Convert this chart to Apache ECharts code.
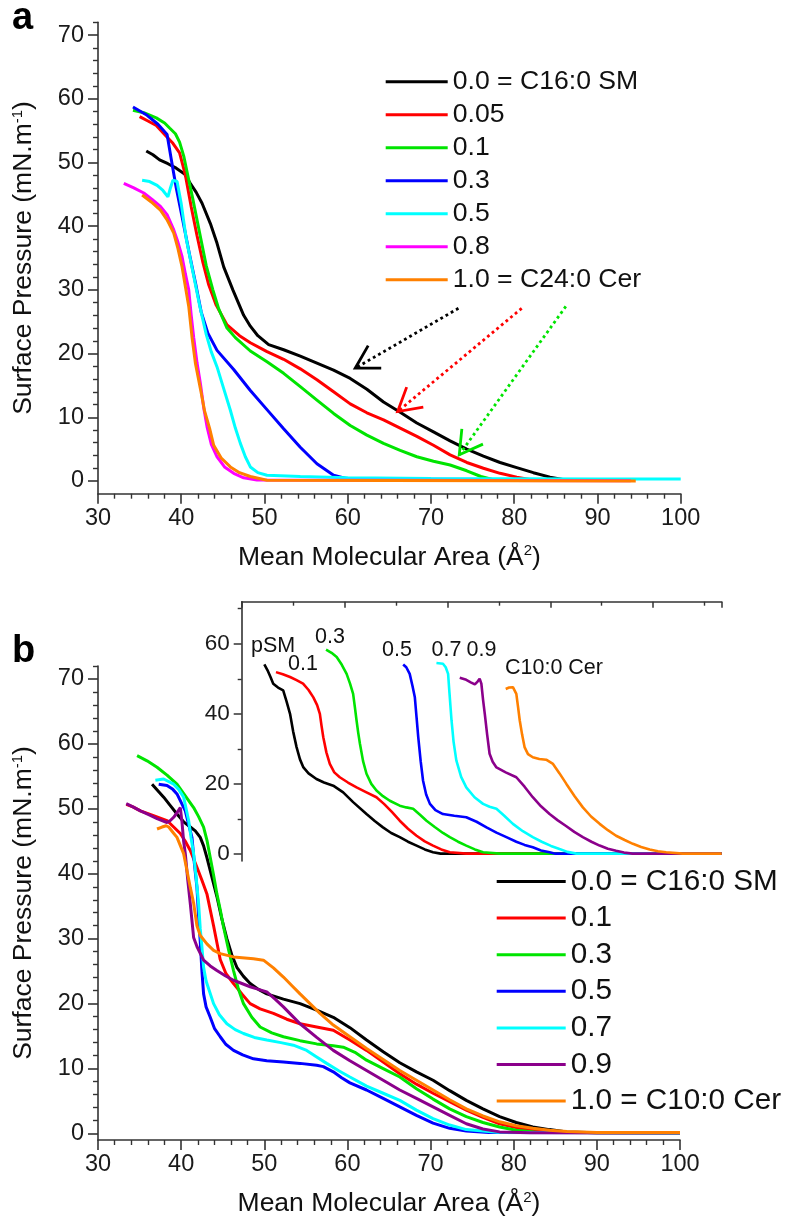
<!DOCTYPE html>
<html><head><meta charset="utf-8">
<script src="https://cdn.jsdelivr.net/npm/echarts@6/dist/echarts.min.js"></script>
<style>html,body{margin:0;padding:0;background:#fff}#c{width:788px;height:1222px}</style>
</head><body><div id="c"></div>
<script>
// ---------- Panel a : C16:0 SM / C24:0 Cer ----------
var aNames = ['0.0 = C16:0 SM','0.05','0.1','0.3','0.5','0.8','1.0 = C24:0 Cer'];
var aColors = ['#000000','#ff0000','#00e400','#0000ff','#00ffff','#ff00ff','#ff8000'];
var a_00 = [[35.8,51.8],[36.6,51.2],[37.4,50.4],[38.4,49.8],[39.4,49.1],[40.4,48.2],[41.1,46.7],[41.8,45.3],[42.5,43.6],[43.5,40.4],[44.3,37.3],[45.1,33.6],[46.2,30.0],[47.5,26.0],[48.3,24.3],[49.2,22.8],[50.5,21.4],[52.3,20.6],[54.3,19.6],[56.3,18.5],[58.3,17.4],[60.3,16.1],[62.3,14.4],[64.3,12.4],[66.3,10.8],[68.3,9.1],[70.3,7.7],[72.3,6.3],[74.3,5.0],[76.3,3.9],[78.3,2.9],[80.3,2.1],[82.3,1.3],[84.3,0.6],[86.0,0.2],[88.0,0.15],[94.0,0.1]];
var a_005 = [[35.0,57.2],[36.0,56.5],[37.0,55.8],[38.0,54.4],[39.0,53.0],[39.8,51.5],[40.5,48.0],[41.2,43.0],[41.9,38.5],[42.6,34.3],[43.3,30.8],[44.2,27.6],[45.5,24.5],[47.0,22.8],[48.3,21.7],[50.3,20.3],[52.3,19.1],[54.3,17.6],[56.3,15.9],[58.3,14.0],[60.3,12.1],[62.3,10.7],[64.3,9.6],[66.3,8.3],[68.3,7.0],[70.3,5.6],[72.3,4.1],[74.3,2.9],[76.3,2.0],[78.3,1.2],[80.3,0.6],[82.0,0.2],[94.0,0.1]];
var a_01 = [[34.2,58.2],[35.5,57.8],[37.0,57.0],[38.0,56.2],[38.6,55.4],[39.3,54.5],[39.8,53.2],[40.3,51.0],[40.7,48.5],[41.4,44.2],[42.2,39.0],[43.0,33.8],[43.8,30.0],[44.5,27.0],[45.5,24.0],[46.5,22.5],[48.3,20.4],[50.3,18.7],[52.3,16.9],[54.3,14.8],[56.3,12.7],[58.3,10.6],[60.3,8.7],[62.3,7.2],[64.3,5.9],[66.3,4.8],[68.3,3.8],[70.3,3.1],[72.3,2.5],[74.3,1.6],[76.0,0.7],[77.5,0.2],[94.0,0.1]];
var a_03 = [[34.2,58.7],[35.9,57.4],[37.2,56.0],[38.3,54.4],[38.8,50.5],[39.4,46.0],[40.2,40.8],[41.0,35.5],[41.8,30.5],[42.4,26.5],[43.2,23.2],[44.3,20.5],[46.3,17.5],[48.3,14.2],[50.3,11.2],[52.3,8.2],[54.3,5.3],[56.3,2.7],[58.3,0.9],[60.0,0.3],[94.0,0.15]];
var a_05 = [[35.3,47.2],[36.2,47.0],[37.1,46.4],[37.8,45.6],[38.4,44.6],[38.7,46.0],[39.0,47.2],[39.5,47.0],[40.0,43.5],[40.6,38.0],[41.4,32.8],[42.2,27.6],[43.0,23.0],[43.6,20.3],[44.3,17.9],[45.1,14.5],[45.9,11.1],[46.5,8.3],[47.1,5.9],[47.7,3.8],[48.3,2.2],[49.2,1.3],[50.3,0.9],[54.3,0.7],[60.0,0.5],[70.0,0.4],[80.0,0.35],[90.0,0.3],[100.0,0.3]];
var a_08 = [[33.1,46.7],[34.3,46.0],[35.5,45.2],[36.5,44.2],[37.5,43.1],[38.3,41.8],[39.1,39.4],[39.6,37.5],[40.1,35.2],[40.5,32.5],[40.9,30.0],[41.2,26.0],[41.5,22.5],[41.9,18.5],[42.3,15.3],[42.7,11.5],[43.1,8.5],[43.6,5.8],[44.3,3.8],[45.2,2.2],[46.3,1.2],[47.5,0.5],[49.1,0.15],[94.0,0.05]];
var a_10 = [[35.3,44.9],[36.4,43.8],[37.5,42.5],[38.3,41.0],[39.1,38.9],[39.6,36.5],[40.1,33.6],[40.5,30.5],[40.9,27.4],[41.3,22.5],[41.7,18.5],[42.3,14.5],[42.8,11.0],[43.4,8.3],[43.9,5.6],[44.8,3.6],[45.9,2.2],[47.0,1.3],[48.3,0.7],[50.3,0.1],[94.6,0.0]];
var aSeries = [a_00,a_005,a_01,a_03,a_05,a_08,a_10];
// dotted arrows in panel a: [tailX, tailY, tipX, tipY]
var aArrows = [[73.3,27.1,60.9,17.7],[80.9,27.1,66.0,10.9],[86.2,27.4,73.4,4.1]];
var aArrowColors = ['#000000','#ff0000','#00e400'];

// ---------- Panel b : C16:0 SM / C10:0 Cer ----------
var bNames = ['0.0 = C16:0 SM','0.1','0.3','0.5','0.7','0.9','1.0 = C10:0 Cer'];
var bColors = ['#000000','#ff0000','#00e400','#0000ff','#00ffff','#8b008b','#ff8000'];
var b_00 = [[36.5,53.8],[37.2,52.8],[37.9,51.8],[38.7,50.5],[39.5,49.2],[40.3,48.0],[41.1,47.2],[41.7,46.6],[42.3,45.6],[42.7,44.3],[43.1,42.5],[43.7,39.5],[44.3,36.5],[44.9,33.0],[45.5,30.0],[46.1,27.5],[46.7,25.6],[47.5,24.2],[48.3,23.1],[49.3,22.2],[50.3,21.5],[52.3,20.7],[54.3,20.0],[56.3,19.0],[58.3,17.9],[60.3,16.3],[62.3,14.4],[64.3,12.6],[66.3,10.9],[68.3,9.5],[70.3,8.2],[72.3,6.6],[74.3,5.1],[76.3,3.8],[78.3,2.6],[80.3,1.7],[82.3,1.0],[84.3,0.6],[86.4,0.25],[90.0,0.1],[100.0,0.1]];
var b_01 = [[33.4,50.7],[34.2,50.3],[35.1,49.7],[36.6,49.0],[38.3,48.2],[39.1,47.2],[39.9,46.2],[40.5,45.0],[41.1,43.6],[41.9,41.0],[42.5,39.0],[43.1,36.9],[43.9,32.0],[44.7,26.8],[45.4,24.6],[46.3,23.1],[47.3,21.5],[48.3,20.0],[49.5,19.2],[51.1,18.5],[52.7,17.6],[54.3,16.9],[56.3,16.4],[58.3,15.9],[60.3,14.4],[62.3,12.8],[64.3,11.0],[66.3,9.2],[68.3,7.6],[70.3,6.2],[72.3,4.9],[74.3,3.6],[76.3,2.5],[78.3,1.5],[80.3,0.9],[82.3,0.5],[86.0,0.15],[100.0,0.1]];
var b_03 = [[34.7,58.2],[35.9,57.4],[37.1,56.4],[38.3,55.2],[39.5,53.8],[40.5,52.0],[41.5,50.2],[42.1,48.8],[42.7,47.2],[43.1,45.2],[43.5,42.5],[43.9,39.8],[44.3,36.9],[44.7,34.5],[45.1,31.8],[45.7,28.3],[46.3,25.1],[46.9,22.2],[47.5,20.0],[48.5,17.9],[49.5,16.4],[50.9,15.5],[52.3,14.9],[54.3,14.3],[56.3,13.8],[58.3,13.5],[59.5,13.3],[60.9,12.5],[62.3,11.3],[64.3,10.0],[66.3,8.7],[68.3,6.9],[70.3,5.3],[72.3,3.8],[74.3,2.6],[76.3,1.7],[78.3,1.0],[80.3,0.5],[83.0,0.15],[100.0,0.1]];
var b_05 = [[37.3,53.8],[38.3,53.6],[39.0,53.0],[39.5,52.3],[40.0,51.0],[40.5,49.7],[40.9,47.6],[41.3,45.6],[41.6,41.5],[41.9,37.9],[42.1,33.5],[42.3,29.5],[42.5,25.0],[42.7,21.5],[43.0,19.5],[43.5,17.9],[44.0,16.2],[44.7,14.9],[45.4,13.7],[46.3,12.8],[47.4,12.1],[48.7,11.5],[50.3,11.2],[52.3,11.0],[54.3,10.8],[56.3,10.5],[57.1,10.3],[58.3,9.5],[59.3,8.6],[60.3,7.8],[62.3,6.7],[64.3,5.4],[66.3,4.1],[68.3,2.8],[70.3,1.6],[72.3,0.8],[74.3,0.4],[77.0,0.15],[100.0,0.1]];
var b_07 = [[36.9,54.4],[37.9,54.6],[39.1,53.8],[39.7,53.0],[40.3,51.8],[40.9,48.2],[41.2,45.5],[41.5,43.1],[41.8,39.5],[42.1,35.4],[42.3,31.5],[42.5,28.7],[42.7,25.6],[43.0,23.5],[43.9,20.0],[44.6,18.3],[45.5,16.9],[46.5,16.0],[47.5,15.4],[48.8,14.8],[50.3,14.4],[52.0,14.0],[53.5,13.6],[55.1,12.8],[56.3,11.8],[57.5,10.8],[58.9,9.7],[60.3,8.7],[62.3,7.3],[64.3,6.2],[66.3,5.1],[68.3,3.6],[70.3,2.3],[72.3,1.3],[74.3,0.6],[78.0,0.2],[100.0,0.1]];
var b_09 = [[33.4,50.8],[34.2,50.3],[35.1,49.7],[36.1,49.1],[37.1,48.5],[38.3,47.9],[38.7,48.2],[39.1,48.7],[39.5,49.4],[39.9,50.2],[40.1,48.0],[40.3,45.0],[40.5,43.1],[40.8,39.0],[41.1,35.4],[41.5,30.2],[41.9,28.8],[42.7,26.7],[43.5,25.8],[44.3,25.1],[45.3,24.3],[46.3,23.6],[47.3,23.1],[48.3,22.6],[49.3,22.2],[50.3,21.8],[51.3,20.7],[52.3,19.5],[53.3,18.2],[54.3,16.9],[56.3,14.8],[58.3,12.8],[60.3,11.2],[62.3,9.7],[64.3,8.2],[66.3,6.7],[68.3,5.4],[70.3,4.1],[72.3,2.8],[74.3,1.5],[76.3,0.7],[78.3,0.25],[82.0,0.1],[100.0,0.1]];
var b_10 = [[37.1,46.9],[37.7,47.2],[38.2,47.4],[38.5,47.2],[39.0,46.4],[39.5,45.6],[40.3,43.1],[40.7,40.5],[41.1,37.9],[41.5,35.5],[41.9,32.0],[42.3,30.5],[43.1,29.2],[43.9,28.2],[44.7,27.7],[46.3,27.2],[48.7,26.9],[49.9,26.7],[51.1,25.5],[52.3,24.1],[53.3,22.8],[54.3,21.5],[55.5,20.0],[56.7,18.5],[58.3,16.7],[60.3,14.9],[62.3,13.1],[64.3,11.4],[66.3,9.7],[68.3,8.2],[70.3,6.7],[72.3,5.2],[74.3,3.8],[76.3,2.7],[78.3,1.8],[80.3,1.2],[82.3,0.8],[84.3,0.5],[86.4,0.3],[90.0,0.15],[100.0,0.15]];
var bSeries = [b_00,b_01,b_03,b_05,b_07,b_09,b_10];

// ---------- Inset (curves offset along area axis) ----------
var iLabels = ['pSM','0.1','0.3','0.5','0.7','0.9','C10:0 Cer'];
var i_00 = [[36.6,54.1],[37.5,52.5],[38.4,50.5],[39.2,48.6],[40.6,47.5],[42.1,46.7],[43.1,43.5],[44.1,40.0],[45.0,35.0],[46.0,30.5],[47.0,27.0],[48.0,24.7],[49.5,23.0],[51.8,21.4],[54.0,20.4],[56.7,19.5],[59.6,17.6],[62.5,14.8],[66.4,11.4],[68.8,9.4],[71.2,7.6],[73.6,6.0],[76.1,4.8],[78.5,3.5],[81.0,2.4],[83.4,1.3],[85.8,0.5],[88.0,0.1],[170,0.1]];
var i_01 = [[40.0,51.9],[42.0,51.3],[44.1,50.5],[46.0,49.6],[47.9,48.6],[49.5,46.8],[50.9,44.7],[52.0,42.5],[52.8,40.0],[53.3,36.5],[53.8,33.3],[54.7,29.0],[55.7,25.7],[57.0,23.3],[58.6,21.9],[61.0,20.4],[63.5,19.0],[66.4,17.6],[69.3,16.2],[71.5,14.3],[73.8,12.0],[76.1,9.5],[78.5,7.2],[81.0,5.2],[83.4,3.6],[85.8,2.4],[88.2,1.3],[90.7,0.5],[95.5,0.1],[170,0.1]];
var i_03 = [[54.6,58.3],[56.2,57.4],[57.7,56.2],[59.2,54.0],[60.6,51.4],[61.6,48.6],[62.5,45.7],[63.0,42.0],[63.5,38.1],[64.0,34.5],[64.5,31.4],[65.4,26.5],[66.4,22.9],[67.8,20.0],[69.3,18.1],[71.2,16.5],[73.2,15.2],[76.1,13.8],[78.0,13.3],[80.0,12.9],[82.0,11.2],[83.9,9.5],[86.3,7.7],[88.7,6.0],[90.7,4.8],[93.1,3.5],[95.5,2.4],[98.0,1.3],[100.4,0.5],[105.2,0.1],[170,0.1]];
var i_05 = [[77.1,54.1],[78.0,53.3],[79.0,51.4],[79.8,48.0],[80.5,44.7],[81.0,39.0],[81.5,33.3],[82.2,26.5],[82.9,20.9],[83.8,17.0],[84.9,14.3],[86.5,12.5],[88.7,11.4],[92.0,10.9],[95.5,10.5],[98.5,9.2],[101.4,7.6],[104.3,6.1],[107.2,4.8],[110.1,3.5],[112.5,2.6],[114.9,1.9],[117.3,1.0],[119.8,0.5],[121.5,0.1],[170,0.1]];
var i_07 = [[86.8,54.5],[88.7,54.3],[89.5,53.3],[90.2,51.4],[90.6,46.0],[91.2,38.1],[91.8,32.0],[92.6,26.7],[94.0,22.0],[95.5,19.0],[97.9,16.2],[100.4,14.3],[102.3,13.5],[104.3,12.9],[106.5,11.0],[109.1,8.6],[112.0,6.5],[114.9,4.8],[117.5,3.5],[120.2,2.3],[122.7,1.4],[125.0,0.6],[127.6,0.1],[170,0.1]];
var i_09 = [[93.6,50.3],[95.5,49.7],[96.8,49.0],[98.0,48.4],[98.8,49.2],[99.4,50.0],[99.9,48.6],[100.4,44.0],[100.9,40.0],[101.6,34.0],[102.3,28.6],[103.2,26.3],[104.3,24.7],[107.0,23.3],[110.1,21.9],[112.5,19.2],[114.9,16.2],[117.3,13.6],[119.8,11.4],[122.2,9.6],[124.6,8.0],[127.0,6.3],[129.5,4.8],[132.0,3.5],[134.4,2.4],[136.8,1.5],[139.2,0.9],[141.5,0.4],[144.0,0.1],[170,0.1]];
var i_10 = [[107.0,47.1],[108.0,47.5],[109.1,47.6],[110.1,45.7],[110.6,42.0],[111.1,38.1],[111.8,34.0],[112.5,30.5],[113.5,28.5],[114.9,27.6],[116.8,27.1],[118.8,26.9],[120.8,25.7],[122.7,23.0],[124.7,20.0],[127.1,16.5],[129.5,13.3],[131.9,10.7],[134.4,8.6],[136.8,6.8],[139.2,5.2],[141.7,4.0],[144.1,2.9],[146.5,2.0],[149.0,1.3],[151.4,0.8],[153.8,0.5],[158.6,0.1],[170,0.1]];
var iSeries = [i_00,i_01,i_03,i_05,i_07,i_09,i_10];

// tick values
var mainYTicks = [0,10,20,30,40,50,60,70];
var mainYMinor = [2,4,6,8,12,14,16,18,22,24,26,28,32,34,36,38,42,44,46,48,52,54,56,58,62,64,66,68,72];
var insetYTicks = [0,20,40,60];
var insetYMinor = [10,30,50,70];

var FONT = '"Liberation Sans", Arial, sans-serif';
var AX = '#333333';
var TXT = '#111111';

function xMain(grid){
  return {gridIndex:grid, type:'value', min:30, max:100, interval:10,
    axisLine:{onZero:false, lineStyle:{color:AX, width:1.6}},
    axisTick:{length:10, lineStyle:{color:AX, width:1.6}},
    minorTick:{show:true, splitNumber:5, length:5, lineStyle:{color:AX, width:1.4}},
    splitLine:{show:false},
    axisLabel:{fontSize:23.5, color:'#1a1a1a', fontFamily:FONT, margin:13},
    name:'Mean Molecular Area (Å{s|2})', nameLocation:'middle', nameGap:50,
    nameTextStyle:{fontSize:26.5, color:TXT, fontFamily:FONT, rich:{s:{fontSize:15, verticalAlign:'top', fontFamily:FONT, color:TXT}}}
  };
}
function yMain(grid, mn){
  return {gridIndex:grid, type:'value', min:mn, max:72, position:'left',
    axisLine:{onZero:false, lineStyle:{color:AX, width:1.6}},
    axisTick:{length:10, customValues:mainYTicks, lineStyle:{color:AX, width:1.6}},
    splitLine:{show:false},
    axisLabel:{customValues:mainYTicks, fontSize:23.5, color:'#1a1a1a', fontFamily:FONT, margin:14},
    name:'Surface Pressure (mN.m{s|-1})', nameLocation:'middle', nameGap:61,
    nameTextStyle:{fontSize:26.5, color:TXT, fontFamily:FONT, rich:{s:{fontSize:15, verticalAlign:'top', fontFamily:FONT, color:TXT}}}
  };
}
function yMinor(grid, mn, vals, len){
  return {gridIndex:grid, type:'value', min:mn, max:72, position:'left',
    axisLine:{show:false}, splitLine:{show:false},
    axisLabel:{show:false, customValues:vals},
    axisTick:{show:true, length:len, customValues:vals, lineStyle:{color:AX, width:1.4}}
  };
}

var series = [];
aSeries.forEach(function(d,i){
  series.push({type:'line', name:'a#'+aNames[i], xAxisIndex:0, yAxisIndex:0, data:d,
    showSymbol:false, symbol:'none', lineStyle:{color:aColors[i], width:3}, itemStyle:{color:aColors[i]}, z:2+i});
});
bSeries.forEach(function(d,i){
  series.push({type:'line', name:'b#'+bNames[i], xAxisIndex:1, yAxisIndex:2, data:d,
    showSymbol:false, symbol:'none', lineStyle:{color:bColors[i], width:3}, itemStyle:{color:bColors[i]}, z:2+i});
});
iSeries.forEach(function(d,i){
  series.push({type:'line', name:'i#'+iLabels[i], xAxisIndex:2, yAxisIndex:4, data:d,
    showSymbol:false, symbol:'none', lineStyle:{color:bColors[i], width:2.6}, itemStyle:{color:bColors[i]}, z:2+i});
});
series.push({type:'custom', name:'arrows', xAxisIndex:0, yAxisIndex:0, data:aArrows, clip:false, z:20,
  renderItem:function(params, api){
    var t = api.coord([api.value(0), api.value(1)]);
    var h = api.coord([api.value(2), api.value(3)]);
    var c = aArrowColors[params.dataIndex];
    var ang = Math.atan2(t[1]-h[1], t[0]-h[0]);
    var L = 26, A = Math.PI/6;
    var p1 = [h[0]+L*Math.cos(ang+A), h[1]+L*Math.sin(ang+A)];
    var p2 = [h[0]+L*Math.cos(ang-A), h[1]+L*Math.sin(ang-A)];
    return {type:'group', children:[
      {type:'line', shape:{x1:t[0], y1:t[1], x2:h[0], y2:h[1]}, style:{stroke:c, lineWidth:2.8, lineDash:[2.8,3.2]}},
      {type:'polyline', shape:{points:[p1,h,p2]}, style:{stroke:c, lineWidth:2.8, fill:null}}
    ]};
  }
});

var insetTextPos = [[251,646],[288,664],[315,637],[382,650],[431.5,650],[466.5,650],[505,668.5]];
var graphics = [
  {type:'text', left:12, top:0, style:{text:'a', font:'bold 38px '+FONT, fill:'#000'}},
  {type:'text', left:12, top:633, style:{text:'b', font:'bold 38px '+FONT, fill:'#000'}}
];
iLabels.forEach(function(t,i){
  graphics.push({type:'text', x:insetTextPos[i][0], y:insetTextPos[i][1],
    style:{text:t, font:'21.5px '+FONT, fill:TXT, verticalAlign:'middle', align:'left'}});
});

var option = {
  animation:false,
  backgroundColor:'#ffffff',
  grid:[
    {left:98, top:22.3, width:582.7, height:471.4},
    {left:98, top:666, width:582, height:474},
    {left:241.7, top:601.7, width:480, height:259.3}
  ],
  xAxis:[
    xMain(0), xMain(1),
    {gridIndex:2, type:'value', position:'top', min:30, max:170, interval:30,
      axisLine:{onZero:false, lineStyle:{color:AX, width:1.6}},
      axisTick:{inside:true, length:6, lineStyle:{color:AX, width:1.5}},
      minorTick:{show:true, splitNumber:2, length:4, lineStyle:{color:AX, width:1.4}},
      splitLine:{show:false}, axisLabel:{show:false}}
  ],
  yAxis:[
    yMain(0,-2), yMinor(0,-2,mainYMinor,5),
    yMain(1,-1), yMinor(1,-1,mainYMinor,5),
    {gridIndex:2, type:'value', min:-2, max:72, position:'left',
      axisLine:{onZero:false, lineStyle:{color:AX, width:1.6}},
      axisTick:{length:8, customValues:insetYTicks, lineStyle:{color:AX, width:1.5}},
      splitLine:{show:false},
      axisLabel:{customValues:insetYTicks, fontSize:22.5, color:'#1a1a1a', fontFamily:FONT, margin:12}},
    yMinor(2,-2,insetYMinor,4)
  ],
  legend:[
    {data:aNames.map(function(n){return 'a#'+n;}), orient:'vertical', left:385.7, top:67.7, padding:0,
      icon:'rect', itemWidth:62, itemHeight:3, itemGap:5, selectedMode:false,
      formatter:function(n){return n.slice(2);},
      textStyle:{fontSize:26.6, lineHeight:28, color:TXT, fontFamily:FONT}},
    {data:bNames.map(function(n){return 'b#'+n;}), orient:'vertical', left:496.7, top:866, padding:0,
      icon:'rect', itemWidth:69, itemHeight:3, itemGap:5.6, selectedMode:false,
      formatter:function(n){return n.slice(2);},
      textStyle:{fontSize:29.7, lineHeight:31, color:TXT, fontFamily:FONT}}
  ],
  graphic:graphics,
  series:series
};
var chart = echarts.init(document.getElementById('c'), null, {renderer:'canvas'});
chart.setOption(option);
</script></body></html>
